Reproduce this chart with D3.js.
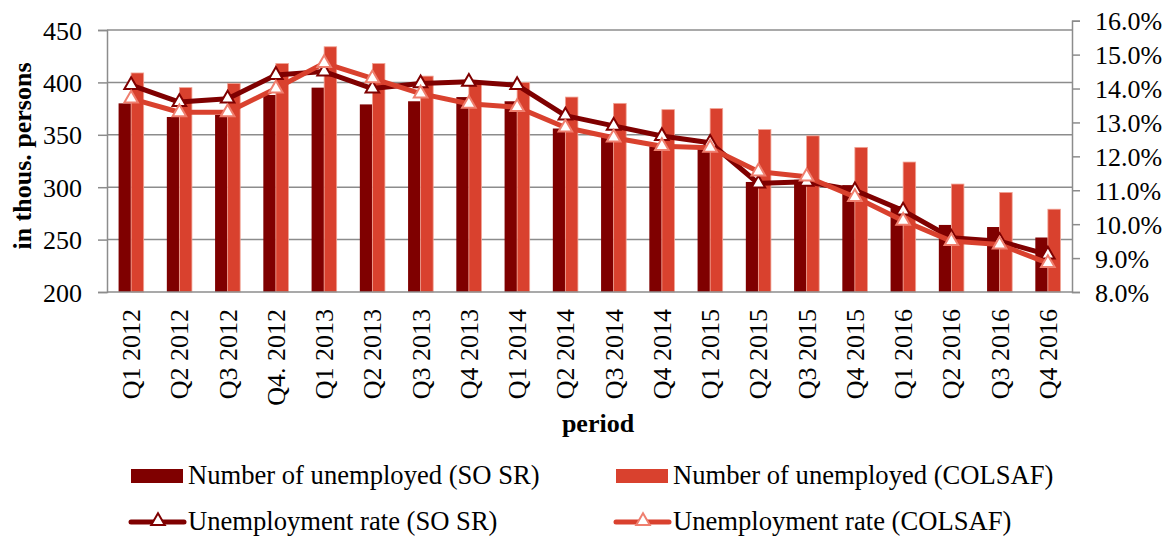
<html>
<head>
<title>Unemployment</title>
<style>
  body { margin: 0; background: #fff; }
  text { font-family: "Liberation Serif", "Times New Roman", serif; fill: #000; }
</style>
</head>
<body>
<div id="svghere"></div>
<script src="https://d3js.org/d3.v7.min.js"></script>
<script>
var categories = ["Q1 2012", "Q2 2012", "Q3 2012", "Q4. 2012", "Q1 2013", "Q2 2013", "Q3 2013", "Q4 2013",
    "Q1 2014", "Q2 2014", "Q3 2014", "Q4 2014", "Q1 2015", "Q2 2015", "Q3 2015", "Q4 2015",
    "Q1 2016", "Q2 2016", "Q3 2016", "Q4 2016"];
var unempSOSR   = [380, 367, 369, 388, 395, 379, 382, 386, 382, 356, 348, 339, 337, 305, 307, 302, 282, 264, 262, 252];
var unempCOLSAF = [409, 395, 399, 418, 434, 418, 406, 400, 400, 386, 380, 374, 375, 355, 349, 338, 324, 303, 295, 279];
var rateSOSR    = [14.1, 13.6, 13.7, 14.4, 14.5, 14.0, 14.15, 14.2, 14.1, 13.2, 12.9, 12.6, 12.4, 11.2, 11.25, 11.0, 10.4, 9.6, 9.5, 9.1];
var rateCOLSAF  = [13.7, 13.3, 13.3, 14.0, 14.75, 14.3, 13.85, 13.55, 13.45, 12.85, 12.55, 12.3, 12.25, 11.55, 11.4, 10.8, 10.1, 9.5, 9.4, 8.85];
var leftTicks  = [200, 250, 300, 350, 400, 450];
var rightTicks = [8, 9, 10, 11, 12, 13, 14, 15, 16];

var darkRed = "#7f0000", lightRed = "#d9412e";

var svg = d3.select("#svghere")
    .append('svg')
    .attr('width', 1168)
    .attr('height', 537);

var x = d3.scaleBand().domain(categories).range([107, 1072]).paddingInner(0.48).paddingOuter(0.24);
var y = d3.scaleLinear().domain([200, 450]).range([292, 30]);
var yR = d3.scaleLinear().domain([8, 16]).range([292, 20.7]);
var sub = d3.scaleBand().domain([0, 1]).range([0, x.bandwidth()]);

// gridlines
svg.append('g')
    .selectAll('line')
    .data(leftTicks.slice(1))
    .enter()
    .append('line')
    .attr('x1', 107).attr('x2', 1072)
    .attr('y1', function(d) { return y(d); })
    .attr('y2', function(d) { return y(d); })
    .style('stroke', '#8c8c8c')
    .style('stroke-width', 1.5);

// left axis
var gL = svg.append('g')
    .attr('transform', 'translate(107,0)')
    .call(d3.axisLeft(y).tickValues(leftTicks).tickSize(9).tickPadding(16));
gL.selectAll('text').style('font-size', '26px').attr('dy', '0.35em');

// right axis
var gR = svg.append('g')
    .attr('transform', 'translate(1072,0)')
    .call(d3.axisRight(yR).tickValues(rightTicks).tickSize(8).tickPadding(15)
        .tickFormat(function(d) { return d.toFixed(1) + '%'; }));
gR.selectAll('text').style('font-size', '26px').attr('dy', '0.35em');

[gL, gR].forEach(function(g) {
    g.select('.domain').style('stroke', '#8c8c8c').style('stroke-width', 1.5);
    g.selectAll('.tick line').style('stroke', '#8c8c8c').style('stroke-width', 1.5);
});

// bars
var bars = svg.append('g');
bars.selectAll('rect.sosr')
    .data(unempSOSR)
    .enter()
    .append('rect')
    .attr('class', 'sosr')
    .attr('x', function(d, i) { return x(categories[i]) + sub(0); })
    .attr('y', function(d) { return y(d); })
    .attr('width', sub.bandwidth())
    .attr('height', function(d) { return 292 - y(d); })
    .attr('fill', darkRed);
bars.selectAll('rect.colsaf')
    .data(unempCOLSAF)
    .enter()
    .append('rect')
    .attr('class', 'colsaf')
    .attr('x', function(d, i) { return x(categories[i]) + sub(1); })
    .attr('y', function(d) { return y(d); })
    .attr('width', sub.bandwidth())
    .attr('height', function(d) { return 292 - y(d); })
    .attr('fill', lightRed)
    .style('stroke', '#f1a394')
    .style('stroke-width', 0.8);

// bottom axis line
svg.append('line')
    .attr('x1', 107).attr('x2', 1072).attr('y1', 292).attr('y2', 292)
    .style('stroke', '#8c8c8c').style('stroke-width', 1.5);

// x labels
svg.append('g')
    .selectAll('text')
    .data(categories)
    .enter()
    .append('text')
    .attr('transform', function(d) { return 'translate(' + (x(d) + x.bandwidth() / 2) + ',309) rotate(-90)'; })
    .attr('text-anchor', 'end')
    .attr('dy', '0.35em')
    .style('font-size', '26px')
    .text(function(d) { return d; });

// lines
var tri = d3.symbol().type(d3.symbolTriangle).size(80);
function drawRate(data, color, markerStroke) {
    var line = d3.line()
        .x(function(d, i) { return x(categories[i]) + x.bandwidth() / 2; })
        .y(function(d) { return yR(d); });
    svg.append('path')
        .datum(data)
        .attr('d', line)
        .attr('fill', 'none')
        .style('stroke', color)
        .style('stroke-width', 5)
        .style('stroke-linejoin', 'round');
    svg.append('g')
        .selectAll('path')
        .data(data)
        .enter()
        .append('path')
        .attr('d', tri)
        .attr('transform', function(d, i) {
            return 'translate(' + (x(categories[i]) + x.bandwidth() / 2) + ',' + yR(d) + ')';
        })
        .attr('fill', '#fff')
        .style('stroke', markerStroke)
        .style('stroke-width', 2);
}
drawRate(rateSOSR, darkRed, darkRed);
drawRate(rateCOLSAF, lightRed, '#ef7f6f');

// axis titles
svg.append('text')
    .attr('transform', 'translate(31,156) rotate(-90)')
    .attr('text-anchor', 'middle')
    .style('font-size', '26px')
    .style('font-weight', 'bold')
    .text('in thous. persons');
svg.append('text')
    .attr('x', 598).attr('y', 432)
    .attr('text-anchor', 'middle')
    .style('font-size', '26px')
    .style('font-weight', 'bold')
    .text('period');

// legend
var legendItems = [
    { name: 'Number of unemployed (SO SR)', color: darkRed, type: 'bar', x: 131, y: 484 },
    { name: 'Number of unemployed (COLSAF)', color: lightRed, type: 'bar', x: 616, y: 484 },
    { name: 'Unemployment rate (SO SR)', color: darkRed, mk: darkRed, type: 'line', x: 131, y: 530 },
    { name: 'Unemployment rate (COLSAF)', color: lightRed, mk: '#ef7f6f', type: 'line', x: 616, y: 530 }
];
var lg = svg.append('g')
    .selectAll('g')
    .data(legendItems)
    .enter()
    .append('g')
    .attr('transform', function(d) { return 'translate(' + d.x + ',' + d.y + ')'; });
lg.filter(function(d) { return d.type === 'bar'; })
    .append('rect')
    .attr('x', 0).attr('y', -15).attr('width', 52).attr('height', 14)
    .attr('fill', function(d) { return d.color; });
lg.filter(function(d) { return d.type === 'line'; })
    .append('line')
    .attr('x1', 0).attr('x2', 53).attr('y1', -8).attr('y2', -8)
    .style('stroke', function(d) { return d.color; })
    .style('stroke-width', 5)
    .style('stroke-linecap', 'round');
lg.filter(function(d) { return d.type === 'line'; })
    .append('path')
    .attr('d', tri)
    .attr('transform', 'translate(27,-9)')
    .attr('fill', '#fff')
    .style('stroke', function(d) { return d.mk; })
    .style('stroke-width', 2);
lg.append('text')
    .attr('x', 57)
    .style('font-size', '26.6px')
    .text(function(d) { return d.name; });
</script>
</body>
</html>
